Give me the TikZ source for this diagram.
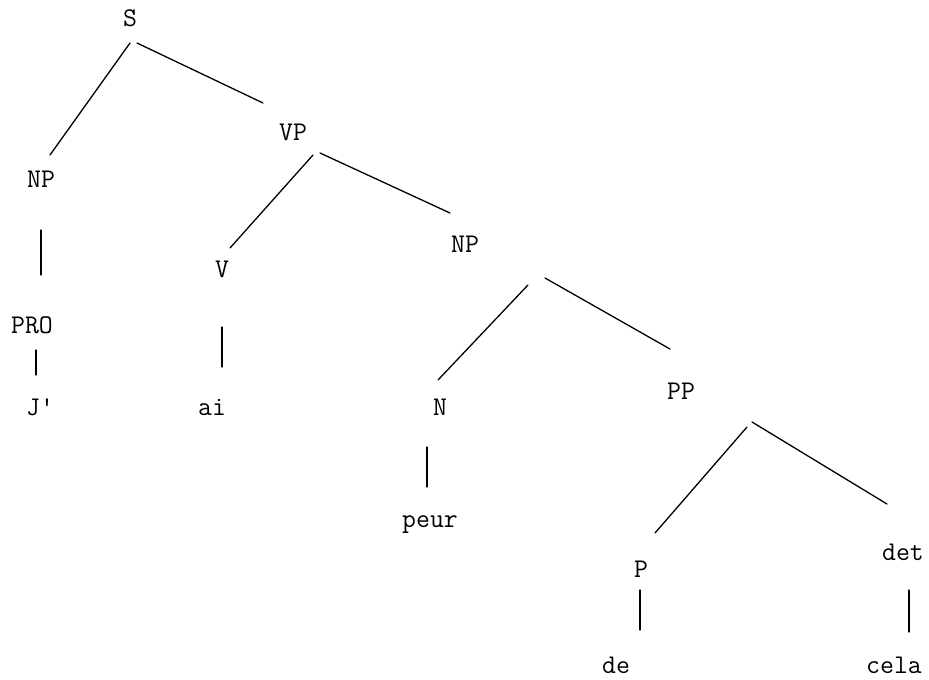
\documentclass[tikz,border=0pt]{standalone}
\begin{document}
\begin{tikzpicture}[x=1pt,y=-1pt,
  lab/.style={font=\fontsize{27}{32}\selectfont\ttfamily, inner sep=0pt, anchor=base},
  edge/.style={line width=1.3pt, line cap=round, black}]
\useasboundingbox[fill=white] (0,0) rectangle (929,680);
% labels (positioned at baseline)
\node[lab] (S)    at (130,27)  {S};
\node[lab] (NPa)  at (41,187)  {NP};
\node[lab] (VP)   at (293,140) {VP};
\node[lab] (V)    at (222,277) {V};
\node[lab] (PRO)  at (32,333)  {PRO};
\node[lab] (J)    at (40,415)  {J'};
\node[lab] (ai)   at (212,415) {ai};
\node[lab] (NPb)  at (465,252) {NP};
\node[lab] (N)    at (440,415) {N};
\node[lab] (peur) at (430,527) {peur};
\node[lab] (PP)   at (681,399) {PP};
\node[lab] (P)    at (641,577) {P};
\node[lab] (det)  at (903,560) {det};
\node[lab] (de)   at (616,673) {de};
\node[lab] (cela) at (894,673) {cela};
% attachment points
\coordinate (S-l) at (130,43);   \coordinate (NPa-t) at (50,155);
\coordinate (S-r) at (137,43);   \coordinate (VP-t) at (263,103);
\coordinate (VP-l) at (313,155); \coordinate (V-t) at (230,248);
\coordinate (VP-r) at (320,153); \coordinate (NPb-t) at (450,213);
\coordinate (NPa-b) at (41,230); \coordinate (PRO-t) at (41,275);
\coordinate (PRO-b) at (36,350); \coordinate (J-t) at (36,375);
\coordinate (V-b) at (222,327);  \coordinate (ai-t) at (222,367);
\coordinate (NPb-l) at (528,285); \coordinate (N-t) at (438,380);
\coordinate (NPb-r) at (545,278); \coordinate (PP-t) at (670,349);
\coordinate (N-b) at (427,447);  \coordinate (peur-t) at (427,487);
\coordinate (PP-l) at (747,427); \coordinate (P-t) at (655,533);
\coordinate (PP-r) at (752,422); \coordinate (det-t) at (887,504);
\coordinate (P-b) at (640,590);  \coordinate (de-t) at (640,630);
\coordinate (det-b) at (909,590); \coordinate (cela-t) at (909,632);
% connectors
\draw[edge] (S-l) -- (NPa-t);
\draw[edge] (S-r) -- (VP-t);
\draw[edge] (VP-l) -- (V-t);
\draw[edge] (VP-r) -- (NPb-t);
\draw[edge] (NPa-b) -- (PRO-t);
\draw[edge] (PRO-b) -- (J-t);
\draw[edge] (V-b) -- (ai-t);
\draw[edge] (NPb-l) -- (N-t);
\draw[edge] (NPb-r) -- (PP-t);
\draw[edge] (N-b) -- (peur-t);
\draw[edge] (PP-l) -- (P-t);
\draw[edge] (PP-r) -- (det-t);
\draw[edge] (P-b) -- (de-t);
\draw[edge] (det-b) -- (cela-t);
\end{tikzpicture}
\end{document}
